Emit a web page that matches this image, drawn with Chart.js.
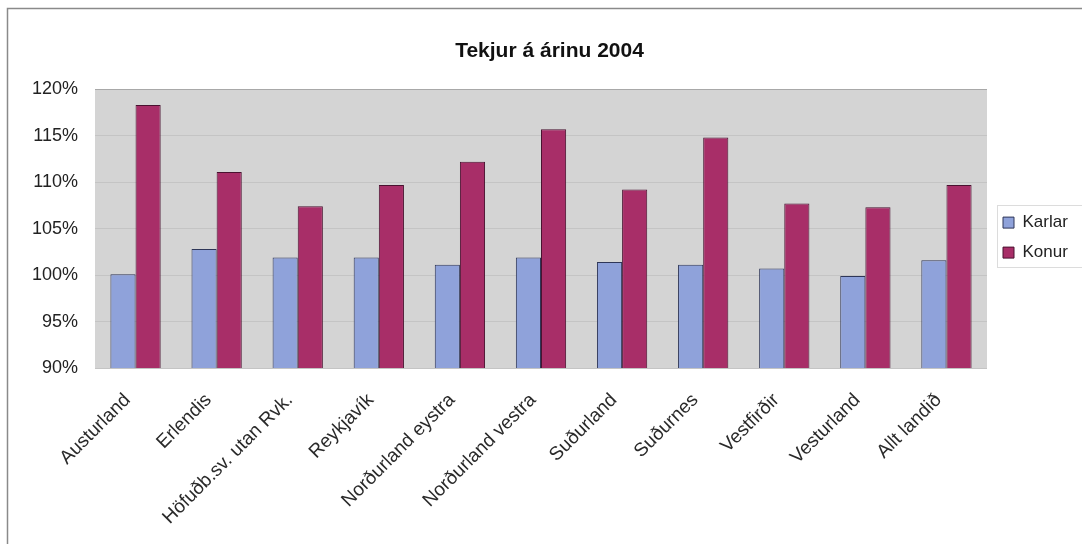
<!DOCTYPE html>
<html>
<head>
<meta charset="utf-8">
<script src="https://cdn.jsdelivr.net/npm/chart.js@4.4.1/dist/chart.umd.min.js"></script>
<style>
  html, body { margin: 0; padding: 0; background: #ffffff; }
  #wrap { width: 1082px; height: 544px; position: relative; }
</style>
</head>
<body>
<div id="wrap"><canvas id="c" width="1082" height="544"></canvas></div>
<script>
// Income ratio by region, 2004 (percent)
const categories = ['Austurland', 'Erlendis', 'Höfuðb.sv. utan Rvk.', 'Reykjavík',
  'Norðurland eystra', 'Norðurland vestra', 'Suðurland', 'Suðurnes',
  'Vestfirðir', 'Vesturland', 'Allt landið'];
const karlar = [100.1, 102.8, 101.9, 101.9, 101.1, 101.9, 101.4, 101.1, 100.7, 99.9, 101.6];
const konur  = [118.3, 111.1, 107.4, 109.7, 112.2, 115.7, 109.2, 114.8, 107.7, 107.3, 109.7];
const yTicks = [90, 95, 100, 105, 110, 115, 120];
const seriesNames = ['Karlar', 'Konur'];
const chartTitle = 'Tekjur á árinu 2004';

const FONT = "'Liberation Sans', Arial, sans-serif";

// White page, thin frame on top/left, grey plot background
const backdrop = {
  id: 'backdrop',
  beforeDraw(chart) {
    const { ctx, chartArea: a } = chart;
    ctx.save();
    ctx.fillStyle = '#ffffff';
    ctx.fillRect(0, 0, chart.width, chart.height);
    ctx.strokeStyle = '#8a8a8a';
    ctx.lineWidth = 1.5;
    ctx.beginPath();
    ctx.moveTo(7.5, chart.height);
    ctx.lineTo(7.5, 8.5);
    ctx.lineTo(chart.width, 8.5);
    ctx.stroke();
    ctx.fillStyle = '#d4d4d4';
    ctx.fillRect(a.left, a.top, a.right - a.left, a.bottom - a.top);
    ctx.restore();
  },
  afterDraw(chart) {
    const lg = chart.legend;
    if (!lg) return;
    const { ctx } = chart;
    ctx.save();
    ctx.strokeStyle = '#dcdcdc';
    ctx.lineWidth = 1;
    ctx.strokeRect(lg.left + 10.5, 205.5, 120, 62);
    ctx.restore();
  }
};

// Fixed legend column width and a small offset for its items
const legendFit = {
  id: 'legendFit',
  afterInit(chart) {
    const lg = chart.legend;
    if (!lg) return;
    const fit0 = lg.fit.bind(lg);
    lg.fit = function () { fit0(); this.width = 95; };
    const draw0 = lg.draw.bind(lg);
    lg.draw = function () {
      const c = this.ctx;
      c.save();
      c.translate(3, 9);
      draw0();
      c.restore();
    };
  }
};

new Chart(document.getElementById('c'), {
  type: 'bar',
  data: {
    labels: categories,
    datasets: [
      {
        label: seriesNames[0],
        data: karlar,
        backgroundColor: '#8fa2da',
        borderColor: '#2e3658',
        borderWidth: 1,
        borderSkipped: false,
        categoryPercentage: 0.62,
        barPercentage: 1.0
      },
      {
        label: seriesNames[1],
        data: konur,
        backgroundColor: '#a82e68',
        borderColor: '#4a1230',
        borderWidth: 1,
        borderSkipped: false,
        categoryPercentage: 0.62,
        barPercentage: 1.0
      }
    ]
  },
  options: {
    responsive: false,
    animation: false,
    devicePixelRatio: 1,
    layout: { padding: { left: 17, right: 0, top: 0, bottom: 0 } },
    plugins: {
      title: {
        display: true,
        text: chartTitle,
        color: '#111111',
        font: { family: FONT, size: 21, weight: 'bold' },
        padding: { top: 39, bottom: 25 }
      },
      legend: {
        position: 'right',
        align: 'center',
        fullSize: false,
        labels: {
          color: '#222222',
          font: { family: FONT, size: 17 },
          boxWidth: 11,
          boxHeight: 11,
          padding: 13
        }
      },
      tooltip: { enabled: false }
    },
    scales: {
      x: {
        grid: { display: false },
        border: { display: false },
        ticks: {
          color: '#2a2a2a',
          font: { family: FONT, size: 19 },
          maxRotation: 45,
          minRotation: 45,
          autoSkip: false,
          padding: 13,
          labelOffset: -8
        },
        afterFit(scale) { scale.height = 176; }
      },
      y: {
        min: 90,
        max: 120,
        border: { display: false },
        grid: {
          drawTicks: false,
          color: (c) => (c.tick && c.tick.value === 120 ? '#a8a8a8' : '#c4c4c4'),
          lineWidth: 1
        },
        ticks: {
          color: '#222222',
          font: { family: FONT, size: 18 },
          padding: 17,
          callback: (v) => v + '%'
        },
        afterBuildTicks(scale) { scale.ticks = yTicks.map((v) => ({ value: v })); },
        afterFit(scale) { scale.width = 78; }
      }
    }
  },
  plugins: [backdrop, legendFit]
});
</script>
</body>
</html>
